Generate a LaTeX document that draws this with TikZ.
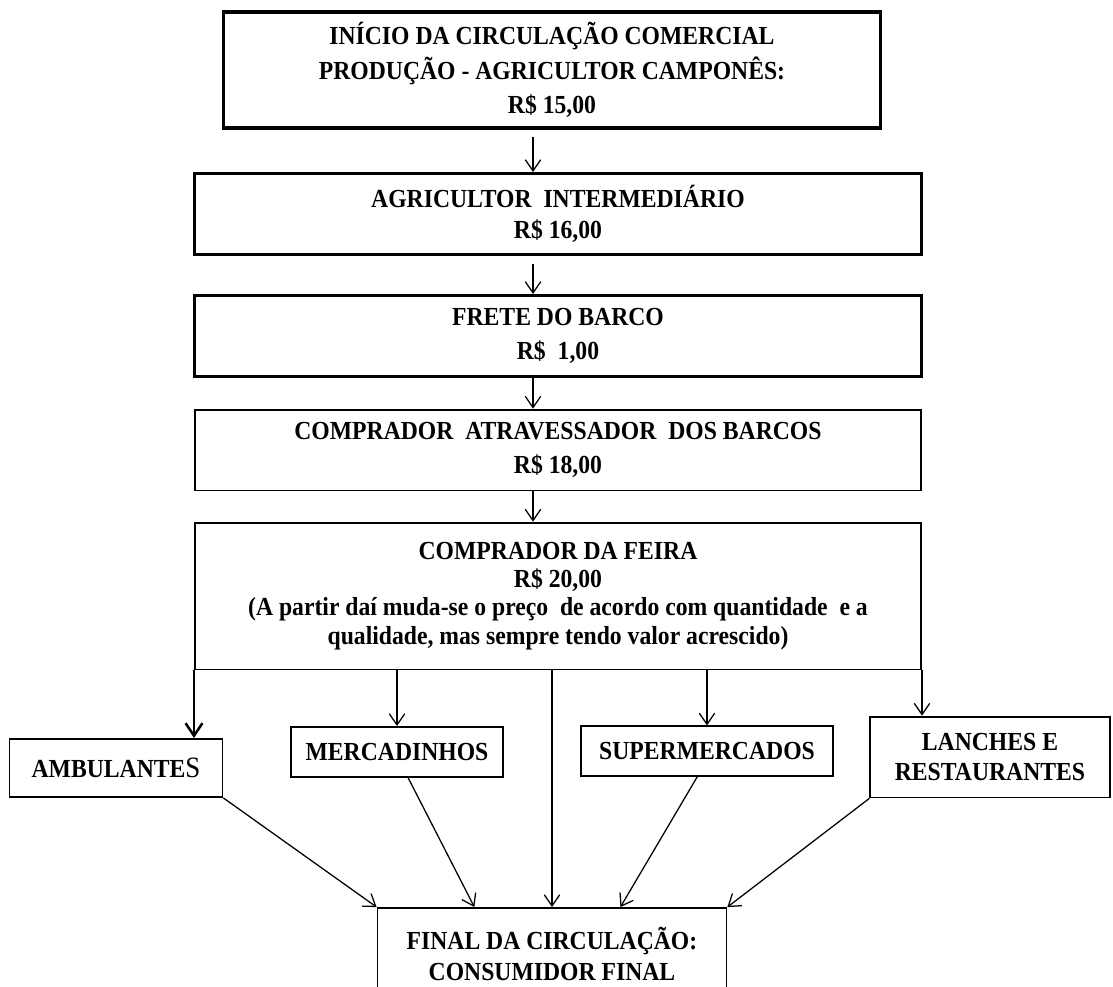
\documentclass[tikz,border=0pt]{standalone}
\usepackage{fontspec}
\setmainfont{Liberation Serif}[FakeStretch=0.91]
\usetikzlibrary{arrows.meta}

\begin{document}
\begin{tikzpicture}
	[
	x=0.025cm, y=-0.025cm, font=\fontsize{18.5}{22}\selectfont\bfseries,
	>={Straight Barb[length=8pt, width=11pt]},
	caixa/.style={draw, line width=1.3pt, align=center, inner sep=0pt},
	caixagrossa/.style={caixa, line width=2.2pt},
	seta/.style={->, line width=0.9pt}
	]
	\clip (0,0) rectangle (1113,987);
	%Etapas da circulação
	\node[caixagrossa, minimum width=16.4cm, minimum height=2.9cm, font=\fontsize{18.5}{24.5}\selectfont\bfseries] (inicio) at (552,70) {INÍCIO DA CIRCULAÇÃO COMERCIAL\\PRODUÇÃO - AGRICULTOR CAMPONÊS:\\R\$ 15,00};
	\node[caixagrossa, minimum width=18.18cm, minimum height=2.02cm] (agricultor) at (558,214) {AGRICULTOR\ \ INTERMEDIÁRIO\\R\$ 16,00};
	\node[caixagrossa, minimum width=18.18cm, minimum height=2.02cm, font=\fontsize{18.5}{24}\selectfont\bfseries] (frete) at (558,336) {FRETE DO BARCO\\R\$\ \ 1,00};
	\node[caixa, minimum width=18.15cm, minimum height=2.02cm, font=\fontsize{18.5}{24}\selectfont\bfseries] (atravessador) at (558,450) {COMPRADOR\ \ ATRAVESSADOR\ \ DOS BARCOS\\R\$ 18,00};
	\node[caixa, minimum width=18.15cm, minimum height=3.67cm, font=\fontsize{18.5}{20}\selectfont\bfseries] (feira) at (558,596) {COMPRADOR DA FEIRA\\R\$ 20,00\\(A partir daí muda-se o preço\ \ de acordo com quantidade\ \ e a\\qualidade, mas sempre tendo valor acrescido)};
	%Pontos de venda
	\node[caixa, minimum width=5.32cm, minimum height=1.45cm] (ambulantes) at (116,768) {AMBULANTE{\mdseries\fontsize{21}{22}\selectfont S}};
	\node[caixa, minimum width=5.3cm, minimum height=1.25cm] (mercadinhos) at (397,752) {MERCADINHOS};
	\node[caixa, minimum width=6.28cm, minimum height=1.23cm] (supermercados) at (707,751) {SUPERMERCADOS};
	\node[caixa, minimum width=5.98cm, minimum height=2.02cm] (lanches) at (990,757) {LANCHES E\\RESTAURANTES};
	\node[caixa, minimum width=8.72cm, minimum height=2.3cm] (final) at (552,954) {FINAL DA CIRCULAÇÃO:\\CONSUMIDOR FINAL};
	%Setas
	\coordinate (eixo) at (533,0);
	\draw[seta] (inicio.south -| eixo) ++(0,7) -- (agricultor.north -| eixo);
	\draw[seta] (agricultor.south -| eixo) ++(0,8) -- (frete.north -| eixo);
	\draw[seta] (frete.south -| eixo) -- (atravessador.north -| eixo);
	\draw[seta] (atravessador.south -| eixo) -- (feira.north -| eixo);
	\draw[seta, line width=1.8pt, >={Straight Barb[length=9pt, width=12pt]}] (feira.south west) -- (ambulantes.north -| feira.west);
	\draw[seta] (feira.south -| mercadinhos) -- (mercadinhos.north);
	\draw[seta] (feira.south -| final) -- (final.north);
	\draw[seta] (feira.south -| supermercados) -- (supermercados.north);
	\draw[seta] (feira.south east) -- (lanches.north -| feira.east);
	\draw[seta] (ambulantes.south east) -- (final.north west);
	\draw[seta] ([xshift=0.28cm]mercadinhos.south) -- ([xshift=-1.94cm]final.north);
	\draw[seta] ([xshift=-0.24cm]supermercados.south) -- ([xshift=1.71cm]final.north);
	\draw[seta] (lanches.south west) -- (final.north east);
\end{tikzpicture}
\end{document}
